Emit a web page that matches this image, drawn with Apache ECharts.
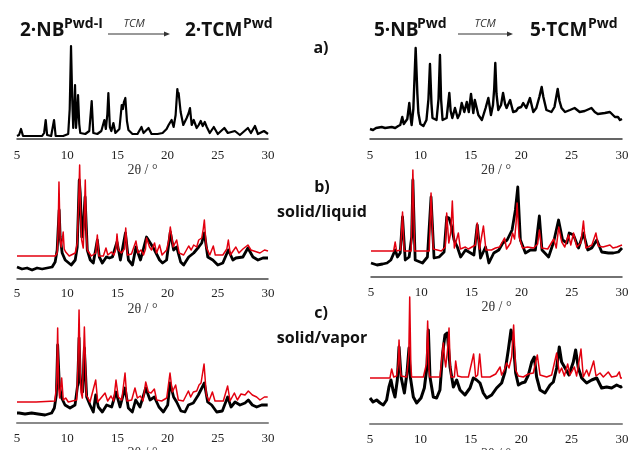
<!DOCTYPE html>
<html>
<head>
<meta charset="utf-8">
<script src="https://cdn.jsdelivr.net/npm/echarts@6/dist/echarts.min.js"></script>
<style>
  html, body { margin: 0; padding: 0; background: #fff; }
  #chart { width: 629px; height: 450px; }
</style>
</head>
<body>
<div id="chart"></div>
<script>
// 2θ axis ticks shared by every panel
const xTicks = [5, 10, 15, 20, 25, 30]

// a) powders, intensity above axis (arb. units)
const nb2Pwd = [[5.0, 3], [5.2, 4], [5.4, 10], [5.6, 3], [6.5, 3], [7.5, 3], [7.7, 6], [7.86, 19], [8.0, 4], [8.4, 3], [8.69, 19], [8.85, 3], [9.6, 3], [10.1, 5], [10.25, 30], [10.38, 93], [10.5, 40], [10.6, 11], [10.7, 30], [10.78, 54], [10.88, 11], [10.98, 25], [11.08, 44], [11.2, 15], [11.3, 6], [11.8, 5], [12.2, 8], [12.44, 38], [12.6, 6], [13.0, 5], [13.4, 8], [13.7, 19], [13.85, 10], [14.0, 25], [14.1, 46], [14.25, 12], [14.4, 8], [14.6, 16], [14.8, 6], [15.2, 10], [15.43, 34], [15.55, 30], [15.65, 37], [15.79, 41], [15.95, 18], [16.1, 9], [16.5, 5], [17.0, 5], [17.4, 12], [17.6, 6], [18.1, 11], [18.4, 5], [19.0, 5], [19.5, 6], [19.9, 10], [20.1, 14], [20.4, 19], [20.6, 12], [20.8, 24], [20.97, 50], [21.05, 43], [21.1, 46], [21.3, 27], [21.56, 14], [21.9, 21], [22.1, 26], [22.23, 31], [22.4, 14], [22.6, 19], [22.9, 11], [23.1, 14], [23.3, 18], [23.5, 13], [23.7, 17], [23.9, 12], [24.2, 6], [24.6, 12], [25.0, 5], [25.65, 11], [26.0, 6], [26.7, 8], [27.2, 4], [28.0, 11], [28.3, 6], [28.7, 13], [29.0, 5], [29.6, 8], [30.0, 5]]
const nb5Pwd = [[5.0, 10], [5.3, 9], [5.6, 11], [6.16, 12], [6.5, 11], [7.15, 12], [7.5, 11], [7.8, 13], [8.0, 14], [8.2, 22], [8.35, 15], [8.47, 16], [8.7, 20], [8.9, 36], [9.05, 20], [9.13, 14], [9.3, 30], [9.53, 91], [9.7, 45], [9.8, 26], [10.0, 15], [10.3, 13], [10.6, 19], [10.8, 40], [10.95, 75], [11.1, 35], [11.2, 21], [11.6, 19], [11.8, 40], [11.94, 84], [12.05, 40], [12.2, 19], [12.6, 21], [12.87, 46], [13.0, 28], [13.17, 21], [13.43, 31], [13.7, 21], [13.9, 25], [14.1, 36], [14.36, 27], [14.6, 37], [14.8, 27], [15.02, 45], [15.25, 26], [15.4, 39], [15.75, 24], [16.1, 19], [16.47, 31], [16.74, 41], [17.0, 24], [17.2, 34], [17.32, 50], [17.43, 76], [17.55, 45], [17.73, 29], [18.0, 34], [18.2, 46], [18.4, 35], [18.55, 31], [18.9, 39], [19.2, 27], [19.5, 28], [19.7, 31], [20.0, 32], [20.2, 36], [20.5, 31], [20.87, 41], [21.2, 27], [21.5, 31], [21.8, 42], [22.03, 52], [22.2, 42], [22.5, 29], [23.0, 27], [23.3, 32], [23.62, 50], [23.8, 38], [24.0, 31], [24.35, 27], [24.84, 29], [25.3, 31], [25.8, 27], [26.3, 28], [26.97, 31], [27.3, 27], [27.6, 25], [28.3, 26], [28.8, 27], [29.3, 22], [29.6, 22], [29.8, 19], [30.0, 20]]

// b) solid/liquid : measured (black) and simulated (red)
const tcm2LiqExp = [[5.0, 12], [5.5, 10], [6.0, 11], [6.5, 9], [7.0, 11], [7.5, 10], [8.0, 11], [8.5, 12], [8.8, 17], [9.0, 29], [9.1, 50], [9.2, 69], [9.3, 42], [9.5, 26], [9.8, 19], [10.4, 14], [10.8, 19], [11.0, 32], [11.2, 99], [11.3, 86], [11.45, 42], [11.6, 52], [11.78, 82], [12.0, 29], [12.3, 19], [12.6, 16], [13.0, 39], [13.2, 22], [13.5, 16], [13.9, 22], [14.2, 21], [14.5, 22], [14.96, 37], [15.3, 19], [15.8, 46], [16.1, 19], [16.5, 14], [16.85, 32], [17.3, 19], [17.9, 42], [18.4, 34], [18.7, 29], [19.2, 19], [19.5, 16], [19.9, 19], [20.27, 47], [20.6, 29], [20.9, 32], [21.3, 17], [21.6, 14], [22.1, 22], [22.6, 26], [23.1, 32], [23.4, 36], [23.66, 46], [24.0, 22], [24.5, 19], [25.0, 14], [25.5, 16], [26.05, 29], [26.5, 19], [26.8, 21], [27.5, 22], [28.0, 31], [28.5, 22], [29.0, 19], [29.5, 21], [30.0, 21]]
const tcm2LiqSim = [[5.0, 23], [8.8, 23], [9.0, 26], [9.1, 50], [9.18, 97], [9.3, 40], [9.4, 32], [9.5, 38], [9.6, 47], [9.7, 30], [9.85, 27], [10.2, 23], [10.8, 26], [11.0, 36], [11.15, 80], [11.24, 114], [11.35, 60], [11.44, 39], [11.6, 31], [11.7, 60], [11.8, 99], [11.9, 50], [12.0, 29], [12.4, 23], [12.85, 26], [13.0, 44], [13.15, 23], [13.6, 23], [13.86, 31], [14.05, 24], [14.4, 27], [14.65, 24], [14.85, 30], [14.96, 45], [15.1, 29], [15.4, 26], [15.7, 30], [15.83, 51], [16.0, 24], [16.4, 25], [16.85, 38], [17.05, 26], [17.35, 29], [17.6, 24], [17.8, 30], [17.9, 41], [18.2, 32], [18.4, 29], [18.7, 36], [18.9, 26], [19.2, 34], [19.45, 24], [19.9, 29], [20.1, 38], [20.27, 52], [20.55, 32], [20.9, 39], [21.15, 26], [21.6, 24], [22.1, 33], [22.35, 29], [22.6, 34], [22.9, 32], [23.1, 39], [23.4, 41], [23.55, 50], [23.66, 59], [23.85, 32], [24.2, 24], [24.55, 33], [24.75, 24], [25.5, 24], [25.9, 30], [26.05, 39], [26.25, 24], [26.8, 32], [27.1, 26], [27.5, 30], [28.0, 34], [28.3, 29], [28.9, 27], [29.2, 26], [29.65, 29], [30.0, 28]]
const tcm5LiqExp = [[5.0, 14], [5.6, 12], [6.16, 13], [6.6, 14], [6.98, 17], [7.41, 27], [7.64, 20], [7.91, 24], [8.14, 60], [8.41, 17], [8.8, 20], [9.05, 40], [9.17, 97], [9.4, 17], [10.13, 14], [10.62, 20], [10.98, 80], [11.28, 19], [11.78, 20], [12.28, 25], [12.54, 60], [12.77, 59], [13.04, 50], [13.27, 37], [13.6, 30], [13.93, 20], [14.42, 27], [14.92, 24], [15.25, 22], [15.58, 52], [15.91, 19], [16.41, 30], [16.74, 14], [17.23, 24], [17.73, 27], [18.13, 34], [18.56, 37], [19.05, 47], [19.38, 67], [19.62, 90], [19.88, 37], [20.38, 24], [20.87, 27], [21.37, 27], [21.77, 61], [22.03, 27], [22.69, 20], [23.19, 35], [23.68, 57], [24.08, 37], [24.51, 34], [24.74, 44], [25.17, 42], [25.67, 29], [26.16, 44], [26.59, 27], [26.99, 29], [27.49, 37], [27.98, 25], [28.65, 24], [29.14, 24], [29.64, 25], [30.0, 29]]
const tcm5LiqSim = [[5.0, 26], [7.25, 26], [7.41, 35], [7.55, 26], [7.95, 27], [8.14, 65], [8.3, 26], [9.0, 26], [9.17, 107], [9.35, 26], [10.8, 26], [10.98, 84], [11.2, 28], [12.0, 26], [12.4, 30], [12.54, 64], [12.75, 34], [12.95, 45], [13.1, 76], [13.3, 29], [13.7, 44], [13.9, 28], [14.4, 30], [14.7, 28], [15.4, 32], [15.58, 54], [15.8, 28], [16.2, 51], [16.45, 27], [17.0, 27], [17.4, 29], [17.8, 30], [18.3, 39], [18.5, 28], [18.9, 34], [19.1, 44], [19.3, 38], [19.45, 54], [19.55, 74], [19.75, 40], [20.1, 29], [20.6, 30], [21.2, 29], [21.6, 33], [21.77, 47], [22.0, 29], [22.6, 28], [23.2, 38], [23.45, 29], [23.7, 50], [24.0, 35], [24.3, 30], [24.67, 42], [24.9, 32], [25.17, 44], [25.5, 30], [25.9, 34], [26.16, 56], [26.4, 29], [27.0, 32], [27.4, 44], [27.65, 31], [28.1, 30], [28.8, 32], [29.1, 29], [29.5, 30], [30.0, 32]]

// c) solid/vapor : measured (black) and simulated (red)
const tcm2VapExp = [[5.0, 10], [5.2, 10], [5.8, 9], [6.46, 10], [7.1, 9], [7.79, 8], [8.45, 10], [8.72, 15], [8.92, 28], [9.05, 78], [9.22, 38], [9.45, 25], [9.78, 18], [10.28, 15], [10.78, 18], [11.04, 38], [11.18, 85], [11.31, 41], [11.54, 31], [11.71, 75], [11.94, 26], [12.27, 18], [12.6, 11], [12.84, 28], [13.1, 16], [13.5, 11], [13.93, 18], [14.43, 16], [14.86, 31], [15.26, 16], [15.76, 35], [16.09, 15], [16.49, 11], [16.82, 23], [17.25, 16], [17.82, 35], [18.25, 23], [18.68, 26], [19.14, 16], [19.58, 11], [20.01, 18], [20.24, 40], [20.6, 26], [20.9, 21], [21.33, 12], [21.73, 11], [22.07, 18], [22.56, 20], [23.06, 28], [23.46, 36], [23.66, 40], [23.99, 21], [24.39, 18], [24.89, 11], [25.45, 12], [25.98, 26], [26.32, 16], [26.72, 21], [27.21, 18], [27.71, 20], [28.04, 23], [28.44, 18], [28.87, 16], [29.37, 18], [29.97, 18]]
const tcm2VapSim = [[5.0, 21], [6.7, 21], [6.79, 22], [6.9, 21], [8.78, 22], [8.95, 40], [9.05, 95], [9.15, 35], [9.25, 25], [9.45, 45], [9.61, 23], [9.85, 25], [10.11, 21], [10.94, 23], [11.08, 60], [11.18, 113], [11.3, 50], [11.37, 31], [11.51, 25], [11.71, 96], [11.91, 28], [12.27, 21], [12.84, 43], [13.04, 21], [13.77, 30], [14.03, 22], [14.36, 27], [14.63, 22], [14.86, 43], [15.09, 26], [15.43, 23], [15.76, 50], [15.96, 22], [16.42, 23], [16.75, 35], [16.99, 25], [17.28, 27], [17.55, 22], [17.82, 41], [18.08, 31], [18.35, 30], [18.68, 34], [18.91, 23], [19.41, 22], [19.91, 25], [20.24, 50], [20.47, 31], [20.8, 38], [21.07, 23], [21.57, 22], [22.07, 32], [22.3, 26], [22.56, 31], [22.9, 32], [23.13, 38], [23.33, 40], [23.63, 59], [23.86, 28], [24.12, 22], [24.46, 31], [24.72, 22], [25.55, 22], [25.98, 37], [26.22, 22], [26.65, 30], [26.95, 23], [27.31, 29], [27.71, 28], [28.04, 32], [28.44, 28], [28.87, 26], [29.2, 23], [29.64, 26], [29.97, 26]]
const tcm5VapExp = [[5.0, 26], [5.3, 22], [5.66, 24], [6.0, 21], [6.32, 19], [6.65, 24], [6.88, 37], [7.08, 44], [7.28, 34], [7.48, 27], [7.71, 44], [7.88, 77], [8.08, 47], [8.41, 31], [8.67, 51], [8.87, 76], [9.0, 47], [9.3, 27], [9.63, 21], [10.06, 26], [10.39, 36], [10.65, 57], [10.79, 94], [10.95, 47], [11.28, 27], [11.61, 26], [11.94, 34], [12.21, 71], [12.44, 89], [12.67, 91], [12.94, 57], [13.27, 37], [13.6, 44], [13.93, 34], [14.42, 29], [14.92, 36], [15.25, 46], [15.58, 44], [15.91, 41], [16.24, 31], [16.57, 26], [17.07, 29], [17.56, 36], [18.06, 41], [18.39, 52], [18.72, 74], [18.99, 94], [19.22, 81], [19.45, 51], [19.72, 39], [20.05, 41], [20.38, 42], [20.71, 49], [21.04, 62], [21.3, 67], [21.53, 47], [21.87, 34], [22.36, 31], [22.86, 39], [23.19, 42], [23.52, 56], [23.78, 77], [24.01, 62], [24.35, 56], [24.74, 49], [25.17, 62], [25.4, 74], [25.67, 56], [26.0, 46], [26.49, 41], [26.99, 44], [27.49, 46], [27.98, 36], [28.48, 37], [28.97, 36], [29.47, 39], [29.87, 37], [30.0, 38]]
const tcm5VapSim = [[5.0, 46], [6.98, 46], [7.15, 55], [7.35, 47], [7.64, 48], [7.8, 60], [7.88, 84], [8.0, 55], [8.08, 48], [8.64, 47], [8.85, 70], [8.94, 127], [9.05, 60], [9.13, 47], [10.29, 47], [10.6, 60], [10.72, 103], [10.85, 55], [10.92, 47], [11.94, 47], [12.28, 81], [12.4, 65], [12.51, 57], [12.7, 75], [12.84, 96], [12.95, 60], [13.04, 47], [13.37, 47], [13.5, 63], [13.7, 48], [14.1, 47], [14.26, 49], [14.76, 47], [15.28, 70], [15.48, 47], [15.68, 49], [15.88, 70], [16.08, 47], [16.9, 47], [17.47, 50], [17.9, 57], [18.06, 49], [18.33, 54], [18.56, 61], [18.79, 56], [19.05, 67], [19.25, 99], [19.45, 54], [19.72, 48], [20.21, 47], [20.71, 50], [21.2, 51], [21.6, 69], [21.87, 49], [22.53, 47], [23.02, 49], [23.52, 71], [23.78, 51], [24.01, 56], [24.28, 48], [24.61, 60], [24.84, 49], [25.27, 57], [25.5, 48], [25.93, 75], [26.16, 47], [26.49, 54], [26.72, 48], [27.19, 63], [27.42, 48], [27.82, 51], [28.15, 47], [28.64, 52], [28.97, 47], [29.47, 48], [29.73, 52], [29.87, 46], [30.0, 46]]

const chart = echarts.init(document.getElementById('chart'))

// 每个面板的位置（像素）
const panels = [
  { left: 17, width: 251, top: 39, height: 100, max: 100, axisColor: '#333', nameGap: 22, margin: 10 },
  { left: 370, width: 252, top: 39, height: 100, max: 100, axisColor: '#333', nameGap: 22, margin: 10 },
  { left: 17, width: 251, top: 159, height: 120, max: 120, axisColor: '#444', nameGap: 23, margin: 8 },
  { left: 371, width: 251, top: 157, height: 120, max: 120, axisColor: '#444', nameGap: 23, margin: 9 },
  { left: 17, width: 251, top: 293, height: 130, max: 130, axisColor: '#8a8a8a', nameGap: 23, margin: 9 },
  { left: 370, width: 252, top: 294, height: 130, max: 130, axisColor: '#8a8a8a', nameGap: 23, margin: 9 }
]

const black = '#000'
const red = '#e3000f'

function lineSeries (idx, data, color, width, z) {
  return {
    type: 'line',
    xAxisIndex: idx,
    yAxisIndex: idx,
    data: data,
    showSymbol: false,
    z: z,
    lineStyle: { color: color, width: width, join: 'round' },
    silent: true
  }
}

const serif = 'Liberation Serif'
const sans = 'Open Sans'

function txt (x, y, text, size, opts) {
  opts = opts || {}
  return {
    type: 'text',
    x: x,
    y: y,
    style: {
      text: text,
      fontSize: size,
      fontWeight: opts.weight || 'bold',
      fontStyle: opts.style || 'normal',
      fontFamily: sans,
      fill: opts.fill || '#111',
      align: opts.align || 'left',
      verticalAlign: 'middle'
    }
  }
}

function arrow (x1, x2, y) {
  return [
    { type: 'line', shape: { x1: x1, y1: y, x2: x2 - 4, y2: y }, style: { stroke: '#333', lineWidth: 1 } },
    { type: 'polygon', shape: { points: [[x2, y], [x2 - 6, y - 2.5], [x2 - 6, y + 2.5]] }, style: { fill: '#333' } }
  ]
}

const option = {
  animation: false,
  backgroundColor: '#fff',
  // outerBoundsMode none: 不让 v6 为了容纳标签而压缩网格
  grid: panels.map(p => ({ left: p.left, width: p.width, top: p.top, height: p.height, outerBoundsMode: 'none' })),
  xAxis: panels.map((p, i) => ({
    type: 'value',
    gridIndex: i,
    min: xTicks[0],
    max: xTicks[xTicks.length - 1],
    interval: xTicks[1] - xTicks[0],
    axisLine: { show: true, onZero: false, lineStyle: { color: p.axisColor, width: i > 3 ? 2 : 1.5 } },
    axisTick: { show: false },
    splitLine: { show: false },
    axisLabel: { fontFamily: serif, fontSize: 13, color: '#222', margin: p.margin },
    name: '2θ / °',
    nameLocation: 'middle',
    nameGap: p.nameGap,
    nameTextStyle: { fontFamily: serif, fontSize: 14, color: '#333', verticalAlign: 'top' }
  })),
  yAxis: panels.map((p, i) => ({
    type: 'value',
    gridIndex: i,
    min: 0,
    max: p.max,
    show: false
  })),
  series: [
    lineSeries(0, nb2Pwd, black, 2.2, 2),
    lineSeries(1, nb5Pwd, black, 2.4, 2),
    lineSeries(2, tcm2LiqExp, black, 2.8, 2),
    lineSeries(2, tcm2LiqSim, red, 1.5, 3),
    lineSeries(3, tcm5LiqExp, black, 2.8, 2),
    lineSeries(3, tcm5LiqSim, red, 1.5, 3),
    lineSeries(4, tcm2VapExp, black, 2.8, 2),
    lineSeries(4, tcm2VapSim, red, 1.5, 3),
    lineSeries(5, tcm5VapExp, black, 3, 2),
    lineSeries(5, tcm5VapSim, red, 1.5, 3)
  ],
  graphic: [
    txt(20, 31, '2·NB', 19),
    txt(64, 24, 'Pwd-I', 14),
    ...arrow(108, 170, 34),
    txt(134, 24, 'TCM', 11, { weight: 'normal', style: 'italic', align: 'center', fill: '#333' }),
    txt(185, 31, '2·TCM', 19),
    txt(243, 24, 'Pwd', 14),
    txt(374, 31, '5·NB', 19),
    txt(417, 24, 'Pwd', 14),
    ...arrow(458, 513, 34),
    txt(485, 24, 'TCM', 11, { weight: 'normal', style: 'italic', align: 'center', fill: '#333' }),
    txt(530, 31, '5·TCM', 19),
    txt(588, 24, 'Pwd', 14),
    txt(321, 48, 'a)', 16, { align: 'center' }),
    txt(322, 187, 'b)', 16, { align: 'center' }),
    txt(322, 212, 'solid/liquid', 16, { align: 'center' }),
    txt(321, 313, 'c)', 16, { align: 'center' }),
    txt(322, 338, 'solid/vapor', 16, { align: 'center' })
  ]
}

chart.setOption(option)
</script>
</body>
</html>
